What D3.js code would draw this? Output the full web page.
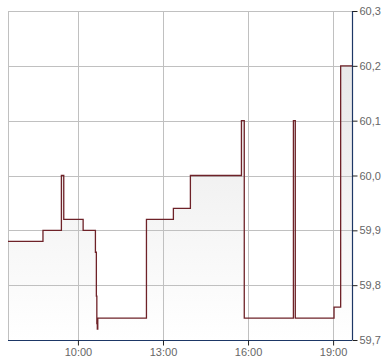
<!DOCTYPE html>
<html>
<head>
<meta charset="utf-8">
<script src="https://cdn.jsdelivr.net/npm/d3@7"></script>
<style>
  body { margin: 0; background: #fff; }
  svg { display: block; font-family: "Liberation Sans", Arial, sans-serif; }
</style>
</head>
<body>
<div id="chart"></div>
<script>
const width = 390;
const height = 364;

// price steps (time, value)
const times = ["07:32", "08:46", "09:25", "09:30", "10:11", "10:37", "10:39", "10:40", "10:41", "10:42",
  "12:25", "13:22", "13:58", "15:46", "15:52", "17:36", "17:40", "19:02", "19:16", "19:40"];
const prices = [59.88, 59.90, 60.00, 59.92, 59.90, 59.86, 59.78, 59.73, 59.72, 59.74,
  59.92, 59.94, 60.00, 60.10, 59.74, 60.10, 59.74, 59.76, 60.20, 60.20];

const yTicks = [59.7, 59.8, 59.9, 60.0, 60.1, 60.2, 60.3];
const xTickLabels = ["10:00", "13:00", "16:00", "19:00"];

const parse = d3.timeParse("%H:%M");
const data = times.map((t, i) => ({ t: parse(t), v: prices[i] }));

const margin = { top: 11, right: 38, bottom: 24, left: 8 };
const x0 = margin.left, x1 = width - margin.right;
const y0 = margin.top, y1 = height - margin.bottom;

const x = d3.scaleTime()
  .domain([parse("07:32"), parse("19:40")])
  .range([x0, x1]);

const y = d3.scaleLinear()
  .domain([59.7, 60.3])
  .range([y1, y0]);

const fmt = d3.formatLocale({ decimal: ",", thousands: ".", grouping: [3], currency: ["", "€"] }).format(".1f");

const svg = d3.select("#chart").append("svg")
  .attr("width", width)
  .attr("height", height);

const defs = svg.append("defs");
const grad = defs.append("linearGradient")
  .attr("id", "fillGrad")
  .attr("gradientUnits", "userSpaceOnUse")
  .attr("x1", 0).attr("y1", y0)
  .attr("x2", 0).attr("y2", y1);
grad.append("stop").attr("offset", "0%").attr("stop-color", "#e4e4e4");
grad.append("stop").attr("offset", "100%").attr("stop-color", "#ffffff");

// area
const area = d3.area()
  .curve(d3.curveStepAfter)
  .x(d => x(d.t))
  .y0(y1)
  .y1(d => y(d.v));

svg.append("path")
  .datum(data)
  .attr("fill", "url(#fillGrad)")
  .attr("d", area);

// grid
const xTicks = xTickLabels.map(parse);

svg.append("g")
  .selectAll("line")
  .data(yTicks)
  .join("line")
  .attr("x1", x0)
  .attr("x2", x1)
  .attr("y1", d => Math.round(y(d)) + 0.5)
  .attr("y2", d => Math.round(y(d)) + 0.5)
  .attr("stroke", "#c0c0c0");

svg.append("g")
  .selectAll("line")
  .data([parse("07:32")].concat(xTicks))
  .join("line")
  .attr("x1", d => Math.round(x(d)) + 0.5)
  .attr("x2", d => Math.round(x(d)) + 0.5)
  .attr("y1", y0)
  .attr("y2", y1)
  .attr("stroke", "#c0c0c0");

// price line
const line = d3.line()
  .curve(d3.curveStepAfter)
  .x(d => x(d.t))
  .y(d => y(d.v));

svg.append("path")
  .datum(data)
  .attr("fill", "none")
  .attr("stroke", "#6e2228")
  .attr("stroke-width", 1.3)
  .attr("d", line);

// axes
const axisColor = "#1d3766";

const yAxis = svg.append("g")
  .attr("transform", `translate(${Math.round(x1) + 0.5},0)`)
  .call(d3.axisRight(y).tickValues(yTicks).tickFormat(fmt).tickSize(5).tickPadding(2));

const xAxis = svg.append("g")
  .attr("transform", `translate(0,${Math.round(y1) + 0.5})`)
  .call(d3.axisBottom(x).tickValues(xTicks).tickFormat(d3.timeFormat("%H:%M")).tickSize(5).tickPadding(3));

[yAxis, xAxis].forEach(g => {
  g.select(".domain").attr("stroke", axisColor).attr("stroke-width", 1.2);
  g.selectAll(".tick line").attr("stroke", "#222");
  g.selectAll(".tick text")
    .attr("fill", "#666")
    .style("font-size", "11px")
    .style("font-family", "'Liberation Sans', Arial, sans-serif");
});
xAxis.select(".domain").attr("d", `M${x0},0H${x1}`);
yAxis.select(".domain").attr("d", `M0,${y0}V${y1}`);
</script>
</body>
</html>
